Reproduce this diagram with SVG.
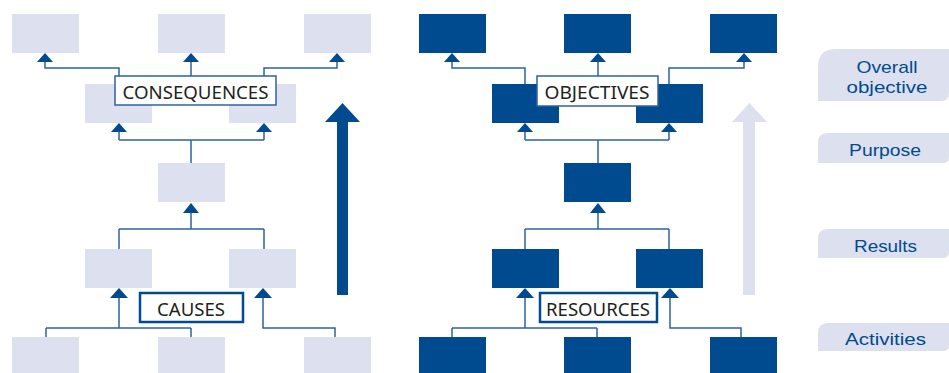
<svg xmlns="http://www.w3.org/2000/svg" width="949" height="373" viewBox="0 0 949 373">
<defs>
<style>
.lb{fill:#dde0ee}
.db{fill:#004a8f}
.ln{fill:none;stroke:#2d62a3;stroke-width:1.5}
.ah{fill:#004a8f}
.tag1{fill:#fff;stroke:#2d62a3;stroke-width:1.5}
.tag2{fill:#fff;stroke:#004a8f;stroke-width:2.5}
.tt{font-family:"Noto Sans","Open Sans",sans-serif;font-size:18px;fill:#231f20;text-anchor:middle}
.st{font-family:"Liberation Sans","Noto Sans",sans-serif;font-size:17px;fill:#004a8f;text-anchor:middle}
</style>
</defs>
<rect width="949" height="373" fill="#fff"/>
<!-- connectors -->
<g id="connectors">
<!-- left tree -->
<path class="ln" d="M119 84 V68 H45 V60 M191 76 V60 M264 84 V68 H337 V60"/>
<path class="ln" d="M191 163 V140 M119 140 H264 M119 140 V130 M264 140 V130"/>
<path class="ln" d="M191 211 V229 M119 229 H264 M119 229 V249 M264 229 V249"/>
<path class="ln" d="M119 296 V328 M46 328 H191 M46 328 V337 M191 328 V337"/>
<path class="ln" d="M263 296 V328 H335 V337"/>
<polygon class="ah" points="45,53 37,62 53,62"/>
<polygon class="ah" points="191,53 183,62 199,62"/>
<polygon class="ah" points="337,53 329,62 345,62"/>
<polygon class="ah" points="119,123 111,132 127,132"/>
<polygon class="ah" points="264,123 256,132 272,132"/>
<polygon class="ah" points="191,203 183,213 199,213"/>
<polygon class="ah" points="119,288 110,298 128,298"/>
<polygon class="ah" points="263,288 254,298 272,298"/>
<!-- right tree -->
<path class="ln" d="M525 84 V68 H452 V60 M598 76 V60 M669 84 V68 H744 V60"/>
<path class="ln" d="M598 163 V140 M525 140 H669 M525 140 V130 M669 140 V130"/>
<path class="ln" d="M598 211 V229 M525 229 H669 M525 229 V249 M669 229 V249"/>
<path class="ln" d="M525 296 V328 M452 328 H597 M452 328 V337 M597 328 V337"/>
<path class="ln" d="M670 296 V328 H741 V337"/>
<polygon class="ah" points="452,53 444,62 460,62"/>
<polygon class="ah" points="598,53 590,62 606,62"/>
<polygon class="ah" points="744,53 736,62 752,62"/>
<polygon class="ah" points="525,123 517,132 533,132"/>
<polygon class="ah" points="669,123 661,132 677,132"/>
<polygon class="ah" points="598,203 590,213 606,213"/>
<polygon class="ah" points="525,288 516,298 534,298"/>
<polygon class="ah" points="670,288 661,298 679,298"/>
</g>
<!-- left tree nodes -->
<g id="problem-tree">
<rect id="c1" class="lb" x="12" y="14" width="67" height="39"/>
<rect id="c2" class="lb" x="158" y="14" width="67" height="39"/>
<rect id="c3" class="lb" x="304" y="14" width="67" height="39"/>
<rect id="c4" class="lb" x="85" y="84" width="67" height="39"/>
<rect id="c5" class="lb" x="229" y="84" width="67" height="39"/>
<rect id="c6" class="lb" x="158" y="163" width="67" height="39"/>
<rect id="c7" class="lb" x="85" y="249" width="67" height="39"/>
<rect id="c8" class="lb" x="229" y="249" width="67" height="39"/>
<rect id="c9" class="lb" x="12" y="337" width="67" height="36"/>
<rect id="c10" class="lb" x="158" y="337" width="67" height="36"/>
<rect id="c11" class="lb" x="304" y="337" width="67" height="36"/>
</g>
<g id="consequences">
<rect class="tag1" x="115" y="76" width="161" height="29"/>
<text class="tt" x="195.5" y="99" textLength="146" lengthAdjust="spacingAndGlyphs">CONSEQUENCES</text>
</g>
<g id="causes">
<rect class="tag2" x="140" y="293" width="103" height="29"/>
<text class="tt" x="191" y="316" textLength="68" lengthAdjust="spacingAndGlyphs">CAUSES</text>
</g>
<g id="arrow-dark">
<rect x="337" y="120" width="11" height="175" fill="#004a8f"/>
<polygon points="342.5,103 325,122 360,122" fill="#004a8f"/>
</g>
<!-- right tree nodes -->
<g id="objective-tree">
<rect id="o1" class="db" x="419" y="14" width="67" height="39"/>
<rect id="o2" class="db" x="564" y="14" width="67" height="39"/>
<rect id="o3" class="db" x="710" y="14" width="67" height="39"/>
<rect id="o4" class="db" x="492" y="84" width="67" height="39"/>
<rect id="o5" class="db" x="636" y="84" width="67" height="39"/>
<rect id="o6" class="db" x="564" y="163" width="67" height="39"/>
<rect id="o7" class="db" x="492" y="249" width="67" height="39"/>
<rect id="o8" class="db" x="636" y="249" width="67" height="39"/>
<rect id="o9" class="db" x="419" y="337" width="67" height="36"/>
<rect id="o10" class="db" x="564" y="337" width="67" height="36"/>
<rect id="o11" class="db" x="710" y="337" width="67" height="36"/>
</g>
<g id="objectives">
<rect class="tag1" x="537" y="76" width="121" height="30"/>
<text class="tt" x="597" y="99" textLength="105" lengthAdjust="spacingAndGlyphs">OBJECTIVES</text>
</g>
<g id="resources">
<rect class="tag2" x="540" y="293" width="117" height="29"/>
<text class="tt" x="598" y="316" textLength="104" lengthAdjust="spacingAndGlyphs">RESOURCES</text>
</g>
<g id="arrow-light">
<rect x="743" y="120" width="12" height="175" fill="#dde0ee"/>
<polygon points="749.5,103 732,122 767,122" fill="#dde0ee"/>
</g>
<!-- side labels -->
<g id="overall-objective">
<path class="lb" d="M818 101 V67 Q818 49 836 49 H949 V93 Q949 101 941 101 Z"/>
<text class="st" x="887" y="73" textLength="61" lengthAdjust="spacingAndGlyphs">Overall</text>
<text class="st" x="887" y="93" textLength="81" lengthAdjust="spacingAndGlyphs">objective</text>
</g>
<g id="purpose">
<path class="lb" d="M818 163 V143 Q818 133 828 133 H949 V157 Q949 163 943 163 Z"/>
<text class="st" x="885" y="156" textLength="72" lengthAdjust="spacingAndGlyphs">Purpose</text>
</g>
<g id="results">
<path class="lb" d="M818 258 V239 Q818 229 828 229 H949 V252 Q949 258 943 258 Z"/>
<text class="st" x="885.5" y="252" textLength="63" lengthAdjust="spacingAndGlyphs">Results</text>
</g>
<g id="activities">
<path class="lb" d="M818 351 V333 Q818 323 828 323 H949 V345 Q949 351 943 351 Z"/>
<text class="st" x="885.5" y="345" textLength="81" lengthAdjust="spacingAndGlyphs">Activities</text>
</g>
</svg>
